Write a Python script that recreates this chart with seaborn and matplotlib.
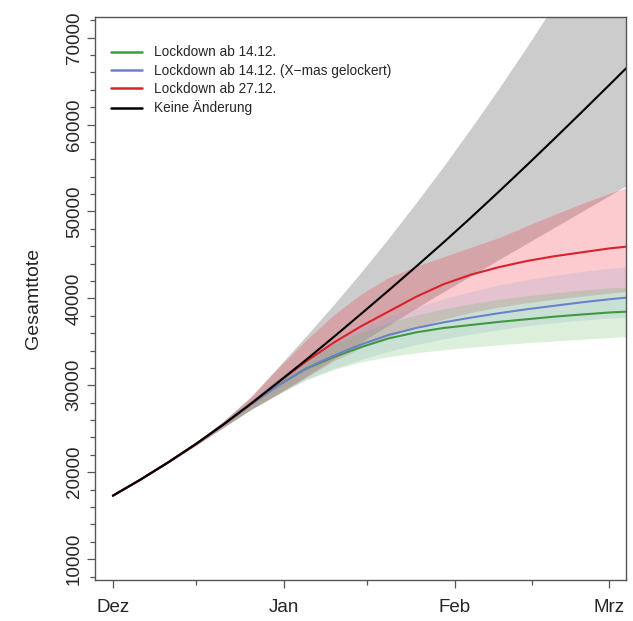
import numpy as np
import pandas as pd
import matplotlib
matplotlib.use("Agg")
import matplotlib.pyplot as plt
from matplotlib.lines import Line2D
import seaborn as sns

# ---- data ----
start = pd.Timestamp("2020-12-01")
days = [0, 5, 10, 15, 20, 25, 30, 35, 40, 45, 50, 55, 60, 65, 70, 75, 80, 85, 90, 93]

black = [17300, 19150, 21125, 23225, 25475, 27875, 30375, 32925, 35550, 38225,
         40935, 43685, 46485, 49360, 52310, 55310, 58360, 61450, 64575, 66465]
black_lo = [17300, 19130, 21065, 23075, 25155, 27225, 29060, 31010, 32990, 34960,
            36930, 38900, 40800, 42640, 44480, 46320, 48160, 50000, 51840, 52950]
black_hi = [17300, 19170, 21200, 23400, 25850, 28700, 32150, 35650, 39265, 43020,
            46950, 51040, 55270, 59670, 64210, 68930, 73800, 78830, 84020, 87200]

red = [17300, 19150, 21125, 23225, 25475, 27875, 30350, 32750, 34900, 36800,
       38500, 40200, 41650, 42750, 43600, 44300, 44850, 45300, 45750, 45950]
red_lo = [17300, 19130, 21065, 23075, 25155, 27225, 29000, 30900, 32800, 34300,
          35600, 36700, 37600, 38400, 39000, 39500, 39900, 40250, 40600, 40800]
red_hi = [17300, 19170, 21200, 23400, 25850, 28650, 32000, 35200, 38100, 40500,
          42400, 43700, 44800, 45900, 47000, 48350, 49650, 50900, 52100, 52700]

blue = [17300, 19150, 21125, 23225, 25475, 27800, 30000, 31950, 33400, 34700,
        35800, 36600, 37250, 37800, 38300, 38750, 39150, 39550, 39900, 40080]
blue_lo = [17300, 19130, 21065, 23075, 25155, 27200, 29000, 30700, 31950, 33000,
           33900, 34700, 35350, 35900, 36400, 36850, 37200, 37500, 37750, 37850]
blue_hi = [17300, 19170, 21200, 23400, 25850, 28300, 30900, 33100, 35000, 36600,
           37900, 39000, 39950, 40800, 41550, 42150, 42650, 43100, 43450, 43650]

green = [17300, 19150, 21125, 23225, 25475, 27800, 30000, 31900, 33250, 34400,
         35400, 36100, 36600, 36950, 37300, 37600, 37900, 38150, 38380, 38470]
green_lo = [17300, 19130, 21065, 23075, 25155, 27200, 29000, 30600, 31800, 32700,
            33300, 33750, 34100, 34400, 34650, 34900, 35100, 35300, 35500, 35600]
green_hi = [17300, 19170, 21200, 23400, 25850, 28300, 30800, 33000, 34700, 36100,
            37200, 38100, 38800, 39400, 39900, 40300, 40650, 40950, 41200, 41300]

labels = ["Lockdown ab 14.12.", "Lockdown ab 14.12. (X\u2212mas gelockert)",
          "Lockdown ab 27.12.", "Keine \u00c4nderung"]
y_ticks = [10000, 20000, 30000, 40000, 50000, 60000, 70000]
x_tick_labels = ["Dez", "Jan", "Feb", "Mrz"]

colors = ["#3f9a3f", "#6d80c8", "#d8222e", "#000000"]
band_colors = ["#5fb85f", "#8aa2d8", "#f03040", "#808080"]
band_alpha = [0.22, 0.20, 0.25, 0.40]

# ---- build frame ----
dates = [start + pd.Timedelta(days=d) for d in days]
series = [(green, green_lo, green_hi), (blue, blue_lo, blue_hi),
          (red, red_lo, red_hi), (black, black_lo, black_hi)]
rows = []
for lab, (m, lo, hi) in zip(labels, series):
    for d, a, b, c in zip(dates, m, lo, hi):
        rows.append({"date": d, "value": a, "lo": b, "hi": c, "scenario": lab})
df = pd.DataFrame(rows)

sns.set_style("ticks")
plt.rcParams["font.family"] = ["Liberation Sans", "DejaVu Sans"]

fig = plt.figure(figsize=(6.33, 6.21), dpi=100)
ax = fig.add_axes([0.150, 0.066, 0.839, 0.907])

# bands
for lab, bc, al in zip(labels[::-1], band_colors[::-1], band_alpha[::-1]):
    sub = df[df.scenario == lab]
    ax.fill_between(sub["date"], sub["lo"], sub["hi"], color=bc, alpha=al, lw=0)

sns.lineplot(data=df, x="date", y="value", hue="scenario", hue_order=labels,
             palette=colors, linewidth=1.5, ax=ax, legend=False)

ax.set_xlim(start - pd.Timedelta(hours=78), start + pd.Timedelta(days=93))
ax.set_ylim(7600, 72400)

ax.set_yticks(y_ticks)
ax.set_yticklabels([str(v) for v in y_ticks], rotation=90, va="center", fontsize=13.5)
ax.set_yticks(np.arange(8000, 72001, 2000), minor=True)

major_x = [pd.Timestamp("2020-12-01"), pd.Timestamp("2021-01-01"),
           pd.Timestamp("2021-02-01"), pd.Timestamp("2021-03-01")]
minor_x = [pd.Timestamp("2020-12-16"), pd.Timestamp("2021-01-16"), pd.Timestamp("2021-02-15")]
ax.set_xticks(major_x)
ax.set_xticklabels(x_tick_labels, fontsize=13.5)
ax.set_xticks(minor_x, minor=True)

ax.tick_params(axis="x", which="major", length=6, width=0.9, color="#555555", direction="out", pad=8)
ax.tick_params(axis="x", which="minor", length=3.5, width=0.9, color="#555555", direction="out")
ax.tick_params(axis="y", which="major", length=5.8, width=0.9, color="#555555", direction="out", pad=3)
ax.tick_params(axis="y", which="minor", length=3.6, width=0.9, color="#555555", direction="out")

for sp in ax.spines.values():
    sp.set_visible(True)
    sp.set_color("#555555")
    sp.set_linewidth(1.0)

ax.set_xlabel("")
ax.set_ylabel("Gesamttote", fontsize=14, labelpad=17)

handles = [Line2D([0], [0], color=c, lw=1.8) for c in colors]
ax.legend(handles, labels, loc="upper left", bbox_to_anchor=(0.012, 0.966),
          frameon=False, fontsize=9.8, handlelength=2.3, handletextpad=0.9,
          labelspacing=0.32, borderaxespad=0.3)

fig.savefig("out.png", dpi=100)
